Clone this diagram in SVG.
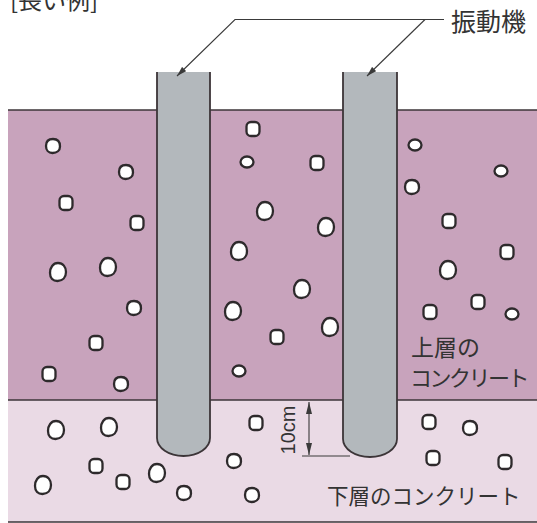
<svg xmlns="http://www.w3.org/2000/svg" xmlns:xlink="http://www.w3.org/1999/xlink" width="537" height="523" viewBox="0 0 537 523">
  <style>
    .txt { font-family: "Noto Sans CJK JP", "Noto Sans", sans-serif; fill: #333333; }
    .dim { font-family: "Liberation Sans", "Noto Sans", sans-serif; fill: #333333; }
    .edge { stroke: #3c3538; stroke-width: 1.6; fill: none; }
    .pile { fill: #b3b8bc; stroke: #3c3538; stroke-width: 1.8; }
    .stone { fill: #ffffff; stroke: #2e2a2c; stroke-width: 2.3; }
    .lead { stroke: #3a3a3a; stroke-width: 1.1; fill: none; }
  </style>
  <defs>
    <path id="s1" class="stone" d="M0,-7 C4.5,-7 7,-4 7,0.5 C7,4.5 4,7 -0.5,7 C-4.5,7 -7,4 -7,0 C-7,-4.5 -4.5,-7 0,-7Z"/>
    <rect id="s2" class="stone" x="-6.5" y="-7" width="13" height="14" rx="4.5"/>
    <ellipse id="s3" class="stone" rx="6.5" ry="5.5"/>
    <path id="s4" class="stone" d="M0,-9 C5,-9 8,-5 8,0 C8,5.5 4.5,9 -0.5,9 C-5,9 -8,6 -8,1 C-8,-4.5 -5,-9 0,-9Z"/>
    <marker id="arr" viewBox="0 0 10 6" refX="10" refY="3" markerWidth="10" markerHeight="6" markerUnits="userSpaceOnUse" orient="auto">
      <path d="M0,0 L10,3 L0,6 Z" fill="#3a3a3a"/>
    </marker>
    <marker id="darr" viewBox="0 0 12 6" refX="12" refY="3" markerWidth="12" markerHeight="6" markerUnits="userSpaceOnUse" orient="auto-start-reverse">
      <path d="M0,0 L12,3 L0,6 Z" fill="#3a3a3a"/>
    </marker>
  </defs>

  <!-- concrete layers -->
  <g id="upper-layer">
    <rect x="8" y="110" width="529" height="290" fill="#c8a3bc"/>
  </g>
  <g id="lower-layer">
    <rect x="8" y="400" width="529" height="122" fill="#eadae5"/>
  </g>
  <line class="edge" x1="8" y1="110" x2="537" y2="110"/>
  <line class="edge" x1="8" y1="400" x2="537" y2="400"/>
  <line class="edge" x1="8" y1="522" x2="537" y2="522"/>

  <!-- aggregate stones -->
  <g id="stones">
    <use href="#s1" x="53" y="146"/>
    <use href="#s1" x="126" y="172"/>
    <use href="#s2" x="66" y="203"/>
    <use href="#s2" x="137" y="223"/>
    <use href="#s4" x="58" y="272"/>
    <use href="#s4" x="108" y="267"/>
    <use href="#s1" x="134" y="308"/>
    <use href="#s2" x="96" y="343"/>
    <use href="#s2" x="49" y="374"/>
    <use href="#s1" x="121" y="384"/>

    <use href="#s2" x="253" y="129"/>
    <use href="#s3" x="247" y="162"/>
    <use href="#s4" x="265" y="211"/>
    <use href="#s2" x="317" y="163"/>
    <use href="#s4" x="326" y="227"/>
    <use href="#s4" x="239" y="251"/>
    <use href="#s4" x="302" y="289"/>
    <use href="#s4" x="233" y="311"/>
    <use href="#s4" x="330" y="327"/>
    <use href="#s2" x="277" y="337"/>
    <use href="#s3" x="239" y="371"/>

    <use href="#s3" x="415" y="145"/>
    <use href="#s3" x="501" y="171"/>
    <use href="#s1" x="412" y="187"/>
    <use href="#s2" x="449" y="221"/>
    <use href="#s2" x="507" y="252"/>
    <use href="#s4" x="448" y="270"/>
    <use href="#s2" x="478" y="302"/>
    <use href="#s2" x="430" y="312"/>
    <use href="#s3" x="512" y="314"/>

    <use href="#s4" x="56" y="430"/>
    <use href="#s4" x="109" y="427"/>
    <use href="#s2" x="256" y="423"/>
    <use href="#s2" x="96" y="466"/>
    <use href="#s4" x="157" y="473"/>
    <use href="#s1" x="234" y="461"/>
    <use href="#s4" x="43" y="485"/>
    <use href="#s2" x="123" y="482"/>
    <use href="#s1" x="184" y="493"/>
    <use href="#s1" x="252" y="495"/>

    <use href="#s2" x="429" y="422"/>
    <use href="#s1" x="470" y="428"/>
    <use href="#s2" x="433" y="458"/>
    <use href="#s2" x="505" y="462"/>
  </g>

  <!-- vibrators -->
  <g id="vibrator-1">
    <path class="pile" d="M157,72 V438 A26.5,18 0 0 0 210,438 V72"/>
    <rect x="158" y="72" width="51" height="3" fill="#b3b8bc"/>
  </g>
  <g id="vibrator-2">
    <path class="pile" d="M343,72 V439 A27,18 0 0 0 397,439 V72"/>
    <rect x="344" y="72" width="52" height="3" fill="#b3b8bc"/>
  </g>

  <!-- leaders and dimension -->
  <g id="connectors">
    <path class="lead" d="M444,19.5 H235 L177,76" marker-end="url(#arr)"/>
    <path class="lead" d="M425,19.5 L367,76" marker-end="url(#arr)"/>
    <line class="lead" x1="302" y1="456" x2="350" y2="456"/>
    <line class="lead" x1="309" y1="402" x2="309" y2="455" marker-start="url(#darr)" marker-end="url(#darr)"/>
  </g>

  <!-- labels -->
  <g id="labels">
    <text class="txt" x="10" y="9" font-size="24">[長い例]</text>
    <text class="txt" x="451" y="31" font-size="25">振動機</text>
    <text class="txt" x="411" y="356" font-size="23">上層の</text>
    <text class="txt" x="410" y="386" font-size="22" letter-spacing="-2.5">コンクリート</text>
    <text class="txt" x="327" y="504" font-size="21.5">下層のコンクリート</text>
    <text class="dim" transform="translate(295,430) rotate(-90)" font-size="20" text-anchor="middle">10cm</text>
  </g>
</svg>
